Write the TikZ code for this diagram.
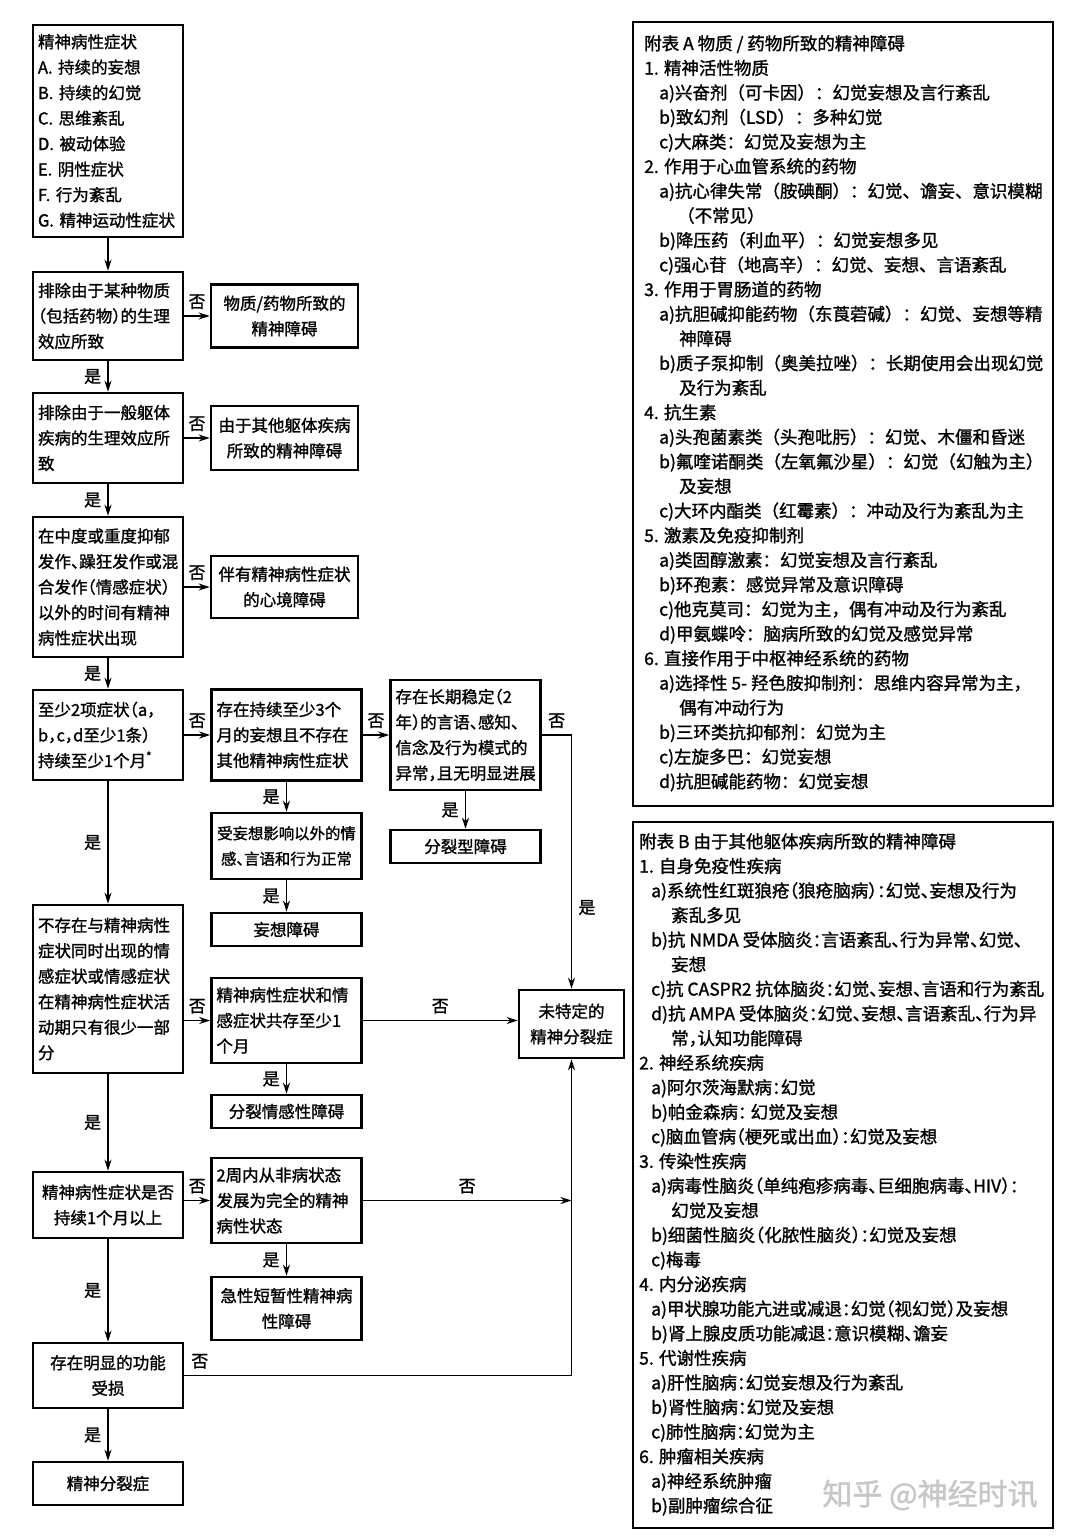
\documentclass[tikz,border=0pt]{standalone}
\usepackage{fontspec}
\setmainfont{Noto Sans CJK SC}[RawFeature=+halt,FakeBold=1.3]
\newfontfamily\fullcjk{Noto Sans CJK SC}[FakeBold=1.3]
\usetikzlibrary{arrows.meta}
\tikzset{
  box/.style={draw,line width=2.6pt,inner xsep=5pt,inner ysep=3pt,
    font=\fontsize{16.5}{25.5}\selectfont},
  lbox/.style={box,align=left,text width=140pt},
  cbox/.style={box,align=center,minimum width=150pt},
  arr/.style={-{Stealth[length=11pt,width=7pt]},line width=1.8pt},
  yes/.style={font=\fontsize{17}{20}\selectfont,inner sep=6pt},
  panel/.style={draw,line width=2pt},
  paneltext/.style={align=left,inner sep=0pt,font=\fontsize{17.5}{24.6}\selectfont}}
\begin{document}
\begin{tikzpicture}[x=1pt,y=-1pt]
  \fill[white] (0,0) rectangle (1072,1540);
  \path[use as bounding box] (0,0) rectangle (1072,1540);
  % main column
  \node[lbox,minimum height=212pt] (sym) at (108,131)
    {精神病性症状\\A. 持续的妄想\\B. 持续的幻觉\\C. 思维紊乱\\D. 被动体验\\E. 阴性症状\\F. 行为紊乱\\G. 精神运动性症状};
  \node[lbox,minimum height=88pt] (subst) at (108,316)
    {排除由于某种物质\\（包括药物）的生理\\效应所致};
  \node[lbox,minimum height=90pt] (medic) at (108,438)
    {排除由于一般躯体\\疾病的生理效应所\\致};
  \node[lbox,minimum height=140pt] (mood) at (108,587)
    {在中度或重度抑郁\\发作、躁狂发作或混\\合发作（情感症状）\\以外的时间有精神\\病性症状出现};
  \node[lbox,minimum height=90pt] (crit) at (108,735)
    {至少2项症状（a，\\b，c，d至少1条）\\持续至少1个月\textsuperscript{*}};
  \node[lbox,minimum height=168pt] (affect) at (108,989)
    {不存在与精神病性\\症状同时出现的情\\感症状或情感症状\\在精神病性症状活\\动期只有很少一部\\分};
  \node[cbox,minimum height=66pt] (month) at (108,1205)
    {精神病性症状是否\\持续1个月以上};
  \node[cbox,minimum height=65pt] (impair) at (108,1375.5)
    {存在明显的功能\\受损};
  \node[cbox,minimum height=43pt] (scz) at (108,1483.5) {精神分裂症};
  % outcomes and side questions
  \node[cbox,minimum width=147pt,minimum height=63pt] (substdis) at (284.5,316)
    {物质/药物所致的\\精神障碍};
  \node[cbox,minimum width=147pt,minimum height=64pt] (medicdis) at (284.5,438)
    {由于其他躯体疾病\\所致的精神障碍};
  \node[cbox,minimum width=147pt,minimum height=62pt] (mooddis) at (284.5,587)
    {伴有精神病性症状\\的心境障碍};
  \node[lbox,minimum height=91pt] (delus) at (286.5,735)
    {存在持续至少3个\\月的妄想且不存在\\其他精神病性症状};
  \node[cbox,minimum height=66pt,font=\fontsize{15.4}{25.5}\selectfont] (normal) at (286.5,846)
    {受妄想影响以外的情\\感、言语和行为正常};
  \node[cbox,minimum height=33pt] (deldis) at (286.5,929.5) {妄想障碍};
  \node[lbox,minimum height=110pt] (stable) at (465.5,735)
    {存在长期稳定（2\\年）的言语、感知、\\信念及行为模式的\\异常，且无明显进展};
  \node[cbox,minimum height=33pt] (schtyp) at (465.5,846.5) {分裂型障碍};
  \node[lbox,minimum height=85pt] (coexist) at (286.5,1020.5)
    {精神病性症状和情\\感症状共存至少1\\个月};
  \node[cbox,minimum height=33pt] (schaff) at (286.5,1111.5) {分裂情感性障碍};
  \node[lbox,minimum height=85pt] (twoweek) at (286.5,1200.5)
    {2周内从非病状态\\发展为完全的精神\\病性状态};
  \node[cbox,minimum height=63pt] (acute) at (286.5,1308.5)
    {急性短暂性精神病\\性障碍};
  \node[cbox,minimum width=105pt,minimum height=68pt] (nos) at (571.5,1024)
    {未特定的\\精神分裂症};
  % connectors
  \draw[arr] (sym) -- (subst);
  \draw[arr] (subst) -- node[yes,left]{是} (medic);
  \draw[arr] (medic) -- node[yes,left]{是} (mood);
  \draw[arr] (mood) -- node[yes,left]{是} (crit);
  \draw[arr] (crit) -- node[yes,left]{是} (affect);
  \draw[arr] (affect) -- node[yes,left]{是} (month);
  \draw[arr] (month) -- node[yes,left]{是} (impair);
  \draw[arr] (impair) -- node[yes,left]{是} (scz);
  \draw[arr] (subst) -- node[yes,above]{否} (substdis);
  \draw[arr] (medic) -- node[yes,above]{否} (medicdis);
  \draw[arr] (mood) -- node[yes,above]{否} (mooddis);
  \draw[arr] (crit) -- node[yes,above]{否} (delus);
  \draw[arr] (delus) -- node[yes,above]{否} (stable);
  \draw[arr] (delus) -- node[yes,left]{是} (normal);
  \draw[arr] (normal) -- node[yes,left]{是} (deldis);
  \draw[arr] (stable) -- node[yes,left]{是} (schtyp);
  \draw[arr] (stable.east) -- node[yes,above]{否} (stable.east -| nos.north)
    -- node[yes,right,pos=0.68]{是} (nos.north);
  \draw[arr] (affect.east |- coexist) -- node[yes,above]{否} (coexist);
  \draw[arr] (coexist.east) -- node[yes,above]{否} (coexist.east -| nos.west);
  \draw[arr] (coexist) -- node[yes,left]{是} (schaff);
  \draw[arr] (month.east |- twoweek) -- node[yes,above]{否} (twoweek);
  \draw[arr] (twoweek.east) -- node[yes,above]{否} (twoweek.east -| nos.south);
  \draw[arr] (twoweek) -- node[yes,left]{是} (acute);
  \draw[arr] (impair.east) -- node[yes,above,pos=0.04]{否} (impair.east -| nos.south)
    -- (nos.south);
  % appendix panels
  \node[panel,minimum width=420pt,minimum height=784pt] (panA) at (843,414) {};
  \node[paneltext,anchor=north west,font={\fullcjk\fontsize{17.5}{24.6}\selectfont}] (listA)
    at ([shift={(12,14)}]panA.north west)
    {附表 A 物质 / 药物所致的精神障碍\\
     1. 精神活性物质\\
     \hspace*{15pt}a)兴奋剂（可卡因）：幻觉妄想及言行紊乱\\
     \hspace*{15pt}b)致幻剂（LSD）：多种幻觉\\
     \hspace*{15pt}c)大麻类：幻觉及妄想为主\\
     2. 作用于心血管系统的药物\\
     \hspace*{15pt}a)抗心律失常（胺碘酮）：幻觉、谵妄、意识模糊\\
     \hspace*{33pt}（不常见）\\
     \hspace*{15pt}b)降压药（利血平）：幻觉妄想多见\\
     \hspace*{15pt}c)强心苷（地高辛）：幻觉、妄想、言语紊乱\\
     3. 作用于胃肠道的药物\\
     \hspace*{15pt}a)抗胆碱抑能药物（东莨菪碱）：幻觉、妄想等精\\
     \hspace*{35pt}神障碍\\
     \hspace*{15pt}b)质子泵抑制（奥美拉唑）：长期使用会出现幻觉\\
     \hspace*{35pt}及行为紊乱\\
     4. 抗生素\\
     \hspace*{15pt}a)头孢菌素类（头孢吡肟）：幻觉、木僵和昏迷\\
     \hspace*{15pt}b)氟喹诺酮类（左氧氟沙星）：幻觉（幻触为主）\\
     \hspace*{35pt}及妄想\\
     \hspace*{15pt}c)大环内酯类（红霉素）：冲动及行为紊乱为主\\
     5. 激素及免疫抑制剂\\
     \hspace*{15pt}a)类固醇激素：幻觉妄想及言行紊乱\\
     \hspace*{15pt}b)环孢素：感觉异常及意识障碍\\
     \hspace*{15pt}c)他克莫司：幻觉为主，偶有冲动及行为紊乱\\
     \hspace*{15pt}d)甲氨蝶呤：脑病所致的幻觉及感觉异常\\
     6. 直接作用于中枢神经系统的药物\\
     \hspace*{15pt}a)选择性 5- 羟色胺抑制剂：思维内容异常为主，\\
     \hspace*{35pt}偶有冲动行为\\
     \hspace*{15pt}b)三环类抗抑郁剂：幻觉为主\\
     \hspace*{15pt}c)左旋多巴：幻觉妄想\\
     \hspace*{15pt}d)抗胆碱能药物：幻觉妄想};
  \node[panel,minimum width=420pt,minimum height=706pt] (panB) at (843,1175) {};
  \node[paneltext,anchor=north west] (listB) at ([shift={(7,12)}]panB.north west)
    {附表 B 由于其他躯体疾病所致的精神障碍\\
     1. 自身免疫性疾病\\
     \hspace*{12pt}a)系统性红斑狼疮（狼疮脑病）：幻觉、妄想及行为\\
     \hspace*{32pt}紊乱多见\\
     \hspace*{12pt}b)抗 NMDA 受体脑炎：言语紊乱、行为异常、幻觉、\\
     \hspace*{32pt}妄想\\
     \hspace*{12pt}c)抗 CASPR2 抗体脑炎：幻觉、妄想、言语和行为紊乱\\
     \hspace*{12pt}d)抗 AMPA 受体脑炎：幻觉、妄想、言语紊乱、行为异\\
     \hspace*{32pt}常，认知功能障碍\\
     2. 神经系统疾病\\
     \hspace*{12pt}a)阿尔茨海默病：幻觉\\
     \hspace*{12pt}b)帕金森病： 幻觉及妄想\\
     \hspace*{12pt}c)脑血管病（梗死或出血）：幻觉及妄想\\
     3. 传染性疾病\\
     \hspace*{12pt}a)病毒性脑炎（单纯疱疹病毒、巨细胞病毒、HIV）：\\
     \hspace*{32pt}幻觉及妄想\\
     \hspace*{12pt}b)细菌性脑炎（化脓性脑炎）：幻觉及妄想\\
     \hspace*{12pt}c)梅毒\\
     4. 内分泌疾病\\
     \hspace*{12pt}a)甲状腺功能亢进或减退：幻觉（视幻觉）及妄想\\
     \hspace*{12pt}b)肾上腺皮质功能减退：意识模糊、谵妄\\
     5. 代谢性疾病\\
     \hspace*{12pt}a)肝性脑病：幻觉妄想及行为紊乱\\
     \hspace*{12pt}b)肾性脑病：幻觉及妄想\\
     \hspace*{12pt}c)肺性脑病：幻觉为主\\
     6. 肿瘤相关疾病\\
     \hspace*{12pt}a)神经系统肿瘤\\
     \hspace*{12pt}b)副肿瘤综合征};
  \node[text=black!22,font=\fontsize{30}{32}\selectfont] (mark) at (930,1495) {知乎 @神经时讯};
\end{tikzpicture}
\end{document}
